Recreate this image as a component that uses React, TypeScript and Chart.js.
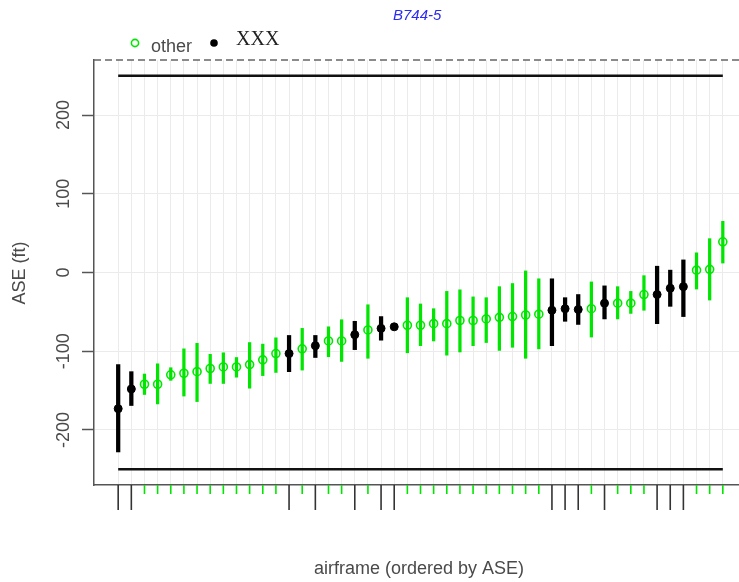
import React, { useEffect, useRef } from "react";
import { Chart, registerables } from "chart.js";

Chart.register(...registerables);

// ---- data ----
const groups = [
  "XXX", "XXX", "other", "other", "other", "other", "other", "other", "other", "other",
  "other", "other", "other", "XXX", "other", "XXX", "other", "other", "XXX", "other",
  "XXX", "XXX", "other", "other", "other", "other", "other", "other", "other", "other",
  "other", "other", "other", "XXX", "XXX", "XXX", "other", "XXX", "other", "other",
  "other", "XXX", "XXX", "XXX", "other", "other", "other",
];
const aseMean = [
  -173, -148, -142, -142, -130, -128, -126, -122, -120, -120,
  -117, -111, -103, -103, -97, -93, -87, -87, -79, -73,
  -71, -69, -67, -67, -65, -65, -61, -61, -59, -57,
  -56, -54, -53, -48, -46, -47, -46, -39, -39, -39,
  -28, -28, -20, -18, 3, 4, 39,
];
const aseLow = [
  -228, -169, -155, -167, -137, -157, -164, -141, -141, -133,
  -147, -131, -127, -126, -124, -108, -107, -113, -98, -109,
  -86, -69, -102, -93, -87, -105, -101, -93, -89, -99,
  -95, -109, -97, -93, -62, -66, -82, -59, -59, -52,
  -48, -65, -43, -56, -21, -35, 12,
];
const aseHigh = [
  -117, -126, -129, -116, -121, -97, -90, -104, -102, -108,
  -89, -91, -83, -80, -71, -80, -69, -60, -62, -41,
  -56, -69, -32, -40, -46, -24, -22, -31, -32, -18,
  -14, 2, -8, -8, -32, -28, -12, -17, -18, -24,
  -4, 8, 3, 16, 25, 43, 65,
];
const yTickValues = [-200, -100, 0, 100, 200];
const refLevels = [250, -250];
const groupNames = ["other", "XXX"];
const titleText = "B744-5";
const yTitle = "ASE (ft)";
const xTitle = "airframe (ordered by ASE)";

const GREEN = "#00e600";
const BLACK = "#000000";
const TEXT = "#4a4a4a";
const SANS = "'Liberation Sans', Arial, sans-serif";

const positions = aseMean.map((_, i) => i + 1);

export default function App() {
  const ref = useRef<HTMLCanvasElement | null>(null);

  useEffect(() => {
    const canvas = ref.current;
    if (!canvas) return;

    const pick = (g: string) => positions.filter((_, i) => groups[i] === g);
    const barsFor = (g: string) =>
      pick(g).map((x) => ({ x, y: [aseLow[x - 1], aseHigh[x - 1]] }));
    const ptsFor = (g: string) => pick(g).map((x) => ({ x, y: aseMean[x - 1] }));

    const decor = {
      id: "decor",
      afterDraw(chart: any) {
        const { ctx, chartArea, scales } = chart;
        const xs = scales.x;
        const ys = scales.y;
        ctx.save();
        // dashed top border
        ctx.strokeStyle = "#666";
        ctx.lineWidth = 1.5;
        ctx.setLineDash([7, 4]);
        ctx.beginPath();
        ctx.moveTo(chartArea.left, chartArea.top);
        ctx.lineTo(chartArea.right, chartArea.top);
        ctx.stroke();
        ctx.setLineDash([]);
        // rug ticks below the panel
        positions.forEach((p, i) => {
          const px = xs.getPixelForValue(p);
          const isX = groups[i] === "XXX";
          ctx.strokeStyle = isX ? "#333" : GREEN;
          ctx.lineWidth = isX ? 1.6 : 1.6;
          ctx.beginPath();
          ctx.moveTo(px, chartArea.bottom);
          ctx.lineTo(px, chartArea.bottom + (isX ? 25 : 9));
          ctx.stroke();
        });
        // y tick labels (rotated)
        ctx.fillStyle = TEXT;
        ctx.font = `18px ${SANS}`;
        ctx.textAlign = "center";
        ctx.textBaseline = "middle";
        yTickValues.forEach((v) => {
          const py = ys.getPixelForValue(v);
          ctx.save();
          ctx.translate(64, py);
          ctx.rotate(-Math.PI / 2);
          ctx.fillText(String(v), 0, 0);
          ctx.restore();
        });
        // y title
        ctx.save();
        ctx.translate(20, 273);
        ctx.rotate(-Math.PI / 2);
        ctx.fillText(yTitle, 0, 0);
        ctx.restore();
        // x title
        ctx.fillText(xTitle, 419, 569);
        // main title
        ctx.fillStyle = "#2a2af0";
        ctx.font = `italic 15px ${SANS}`;
        ctx.textAlign = "left";
        ctx.textBaseline = "alphabetic";
        ctx.fillText(titleText, 393, 20);
        // legend
        ctx.lineWidth = 1.6;
        ctx.strokeStyle = GREEN;
        ctx.beginPath();
        ctx.arc(135, 43, 3.6, 0, Math.PI * 2);
        ctx.stroke();
        ctx.fillStyle = TEXT;
        ctx.font = `18px ${SANS}`;
        ctx.fillText(groupNames[0], 151, 52);
        ctx.fillStyle = BLACK;
        ctx.beginPath();
        ctx.arc(214, 43, 3.8, 0, Math.PI * 2);
        ctx.fill();
        ctx.fillStyle = "#222";
        ctx.font = `20px 'Liberation Serif', 'DejaVu Serif', serif`;
        ctx.fillText(groupNames[1], 236, 45);
        ctx.restore();
      },
    };

    const chart = new Chart(canvas, {
      type: "bar",
      data: {
        datasets: [
          {
            type: "scatter",
            data: ptsFor("XXX"),
            pointRadius: 4,
            pointBackgroundColor: BLACK,
            pointBorderColor: BLACK,
            pointBorderWidth: 1,
            order: 0,
          } as any,
          {
            type: "scatter",
            data: ptsFor("other"),
            pointRadius: 4,
            pointBackgroundColor: "rgba(0,0,0,0)",
            pointBorderColor: GREEN,
            pointBorderWidth: 1.6,
            order: 0,
          } as any,
          {
            type: "bar",
            data: barsFor("XXX"),
            backgroundColor: BLACK,
            borderWidth: 0,
            barThickness: 3.6,
            grouped: false,
            order: 1,
          } as any,
          {
            type: "bar",
            data: barsFor("other"),
            backgroundColor: GREEN,
            borderWidth: 0,
            barThickness: 2.6,
            grouped: false,
            order: 1,
          } as any,
          ...refLevels.map((lv) => ({
            type: "line",
            data: [
              { x: positions[0], y: lv },
              { x: positions[positions.length - 1], y: lv },
            ],
            borderColor: "#111",
            borderWidth: 2.6,
            pointRadius: 0,
            order: 2,
          })) as any,
        ],
      },
      options: {
        responsive: false,
        animation: false,
        events: [],
        layout: { padding: { top: 60, right: 13, left: 0, bottom: 0 } },
        plugins: {
          legend: { display: false },
          tooltip: { enabled: false },
          title: { display: false },
        },
        scales: {
          x: {
            type: "linear",
            min: -0.84,
            max: 48.84,
            offset: false,
            grid: { color: "#ebebeb", lineWidth: 1, drawTicks: false, offset: false },
            border: { display: true, color: "#555", width: 1.5 },
            ticks: { display: false },
            afterBuildTicks: (s: any) => {
              s.ticks = positions.map((v) => ({ value: v }));
            },
            afterFit: (s: any) => {
              s.height = 97;
            },
          },
          y: {
            type: "linear",
            min: -270,
            max: 270,
            grid: {
              color: "#ebebeb",
              lineWidth: 1,
              drawTicks: true,
              tickLength: 12,
              tickColor: "#555",
              tickWidth: 1.5,
            },
            border: { display: true, color: "#555", width: 1.5 },
            ticks: { display: false },
            afterBuildTicks: (s: any) => {
              s.ticks = yTickValues.map((v) => ({ value: v }));
            },
            afterFit: (s: any) => {
              s.width = 94;
            },
          },
        },
      } as any,
      plugins: [decor],
    });

    return () => chart.destroy();
  }, []);

  return (
    <div
      style={{
        position: "fixed",
        left: 0,
        top: 0,
        width: 739,
        height: 582,
        overflow: "hidden",
        background: "#fff",
      }}
    >
      <canvas ref={ref} width={760} height={582} style={{ width: 760, height: 582, display: "block" }} />
    </div>
  );
}
